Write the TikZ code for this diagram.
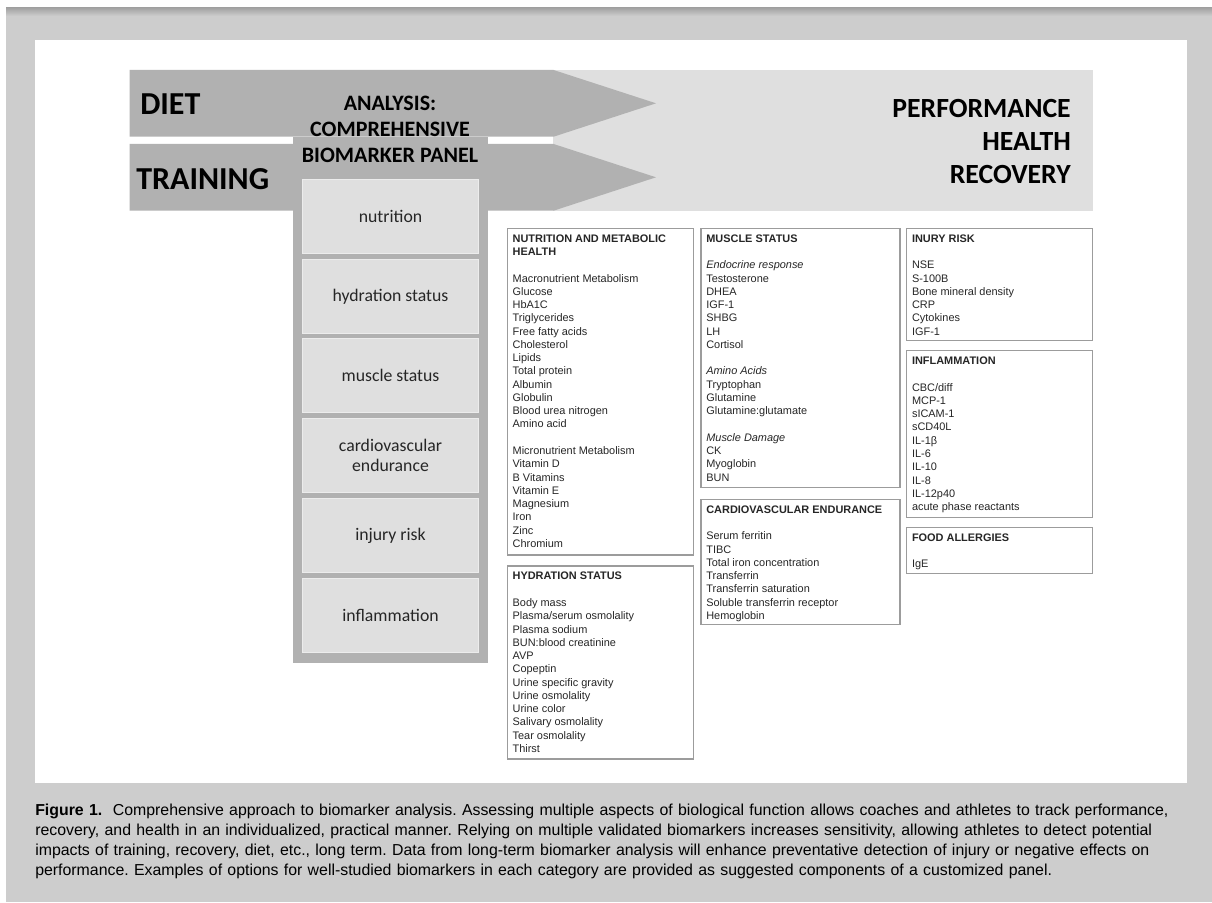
\documentclass[tikz,border=0pt]{standalone}
\usepackage{fontspec}
\setmainfont{Liberation Sans}
\newfontfamily\calib{Carlito}
\newfontfamily\capfont{Liberation Sans}
\definecolor{bggray}{HTML}{CDCDCD}
\definecolor{shadowgray}{HTML}{A3A3A3}
\definecolor{darkgray}{HTML}{B1B1B1}
\definecolor{lightgray}{HTML}{DFDFDF}
\definecolor{boxline}{HTML}{9C9C9C}
\begin{document}
\begin{tikzpicture}[x=0.75pt,y=-0.75pt,
  darkshape/.style={fill=darkgray,draw=none},
  catbox/.style={fill=lightgray,draw=lightgray!60!white,line width=0.6pt,minimum width=131.7pt,minimum height=55.5pt,inner sep=2pt,align=center,font=\calib\fontsize{13.3}{15}\selectfont,text=black!85},
  listbox/.style={draw=boxline,line width=0.8pt,fill=white,anchor=north west,inner sep=0pt,outer sep=0pt},
  listtext/.style={anchor=north west,inner sep=0pt,align=left,font=\fontsize{8.2}{9.95}\selectfont,text=black!85},
  bigtitle/.style={font=\calib\bfseries\fontsize{24}{28}\selectfont,inner sep=0pt}]
\useasboundingbox (0,0) rectangle (1212,902);
% background
\fill[white] (0,0) rectangle (1212,902);
\fill[bggray] (6,8) rectangle (1212,902);
\shade[top color=shadowgray,bottom color=bggray] (6,8) rectangle (1212,16);
\fill[white] (35,40) rectangle (1187,783);
% light outcome band
\node[fill=lightgray,draw=none,anchor=north west,minimum width=404.7pt,minimum height=105.5pt,inner sep=0pt] (band) at (553,70) {};
% arrows
\path[darkshape] (129.5,70) -- (553.6,70) -- (656,103.3) -- (553.6,136.7) -- (129.5,136.7) -- cycle;
\path[darkshape] (129.5,144) -- (553.6,144) -- (656,177.3) -- (553.6,210.7) -- (129.5,210.7) -- cycle;
% column
\node[darkshape,anchor=north west,minimum width=145.95pt,minimum height=394pt,inner sep=0pt] (column) at (292.7,137) {};
% titles
\node[bigtitle,anchor=base west] (diet) at (140,115) {DIET};
\node[bigtitle,anchor=base west] (training) at (136,190) {TRAINING};
\node[font=\calib\bfseries\fontsize{16.5}{19.5}\selectfont,align=center,inner sep=0pt] (analysis) at (390,129) {ANALYSIS:\\COMPREHENSIVE\\BIOMARKER PANEL};
\node[font=\calib\bfseries\fontsize{20.8}{25}\selectfont,align=right,inner sep=0pt,anchor=east] (outcome) at (1071,141.5) {PERFORMANCE\\HEALTH\\RECOVERY};
% category boxes
\node[catbox] (c1) at (390.5,216.3) {nutrition};
\node[catbox] (c2) at (390.5,296.3) {hydration status};
\node[catbox] (c3) at (390.5,375.5) {muscle status};
\node[catbox] (c4) at (390.5,455.5) {cardiovascular\\endurance};
\node[catbox] (c5) at (390.5,535.5) {injury risk};
\node[catbox] (c6) at (390.5,615) {inflammation};
% list boxes
\node[listbox,minimum width=139.5pt,minimum height=245pt] (b1) at (507.3,228.3) {};
\node[listtext] (t1) at ([xshift=3.8pt,yshift=-3.3pt]b1.north west) {\strut\textbf{NUTRITION AND METABOLIC}\\\textbf{HEALTH}\\[\baselineskip]
Macronutrient Metabolism\\Glucose\\HbA1C\\Triglycerides\\Free fatty acids\\Cholesterol\\Lipids\\Total protein\\Albumin\\Globulin\\Blood urea nitrogen\\Amino acid\\[\baselineskip]
Micronutrient Metabolism\\Vitamin D\\B Vitamins\\Vitamin E\\Magnesium\\Iron\\Zinc\\Chromium};
\node[listbox,minimum width=139.5pt,minimum height=144.75pt] (b2) at (507.3,566) {};
\node[listtext] (t2) at ([xshift=3.8pt,yshift=-3.3pt]b2.north west) {\strut\textbf{HYDRATION STATUS}\\[\baselineskip]
Body mass\\Plasma/serum osmolality\\Plasma sodium\\BUN:blood creatinine\\AVP\\Copeptin\\Urine specific gravity\\Urine osmolality\\Urine color\\Salivary osmolality\\Tear osmolality\\Thirst};
\node[listbox,minimum width=149.25pt,minimum height=194.55pt] (b3) at (701,228.3) {};
\node[listtext] (t3) at ([xshift=3.8pt,yshift=-3.3pt]b3.north west) {\strut\textbf{MUSCLE STATUS}\\[\baselineskip]
\textit{Endocrine response}\\Testosterone\\DHEA\\IGF-1\\SHBG\\LH\\Cortisol\\[\baselineskip]
\textit{Amino Acids}\\Tryptophan\\Glutamine\\Glutamine:glutamate\\[\baselineskip]
\textit{Muscle Damage}\\CK\\Myoglobin\\BUN};
\node[listbox,minimum width=149.25pt,minimum height=93.75pt] (b4) at (701,499.3) {};
\node[listtext] (t4) at ([xshift=3.8pt,yshift=-3.3pt]b4.north west) {\strut\textbf{CARDIOVASCULAR ENDURANCE}\\[\baselineskip]
Serum ferritin\\TIBC\\Total iron concentration\\Transferrin\\Transferrin saturation\\Soluble transferrin receptor\\Hemoglobin};
\node[listbox,minimum width=139.5pt,minimum height=83.8pt] (b5) at (906.7,228.3) {};
\node[listtext] (t5) at ([xshift=3.8pt,yshift=-3.3pt]b5.north west) {\strut\textbf{INURY RISK}\\[\baselineskip]
NSE\\S-100B\\Bone mineral density\\CRP\\Cytokines\\IGF-1};
\node[listbox,minimum width=139.5pt,minimum height=124.95pt] (b6) at (906.7,350.7) {};
\node[listtext] (t6) at ([xshift=3.8pt,yshift=-3.3pt]b6.north west) {\strut\textbf{INFLAMMATION}\\[\baselineskip]
CBC/diff\\MCP-1\\sICAM-1\\sCD40L\\IL-1β\\IL-6\\IL-10\\IL-8\\IL-12p40\\acute phase reactants};
\node[listbox,minimum width=139.5pt,minimum height=34.5pt] (b7) at (906.7,527.3) {};
\node[listtext] (t7) at ([xshift=3.8pt,yshift=-3.3pt]b7.north west) {\strut\textbf{FOOD ALLERGIES}\\[\baselineskip]
IgE};
% caption
\node[anchor=north west,inner sep=0pt,text width=864pt,font=\capfont\fontsize{11.9}{15}\selectfont] (caption) at (35,801) {\hyphenpenalty=10000\parindent=0pt\frenchspacing
\makebox[864pt][s]{\strut\textbf{Figure 1.}\ \ Comprehensive approach to biomarker analysis. Assessing multiple aspects of biological function allows coaches and athletes to track performance,}\\
\makebox[864pt][s]{recovery, and health in an individualized, practical manner. Relying on multiple validated biomarkers increases sensitivity, allowing athletes to detect potential}\\
\makebox[864pt][s]{impacts of training, recovery, diet, etc., long term. Data from long-term biomarker analysis will enhance preventative detection of injury or negative effects on}\\
performance. Examples of options for well-studied biomarkers in each category are provided as suggested components of a customized panel.};
\end{tikzpicture}
\end{document}
